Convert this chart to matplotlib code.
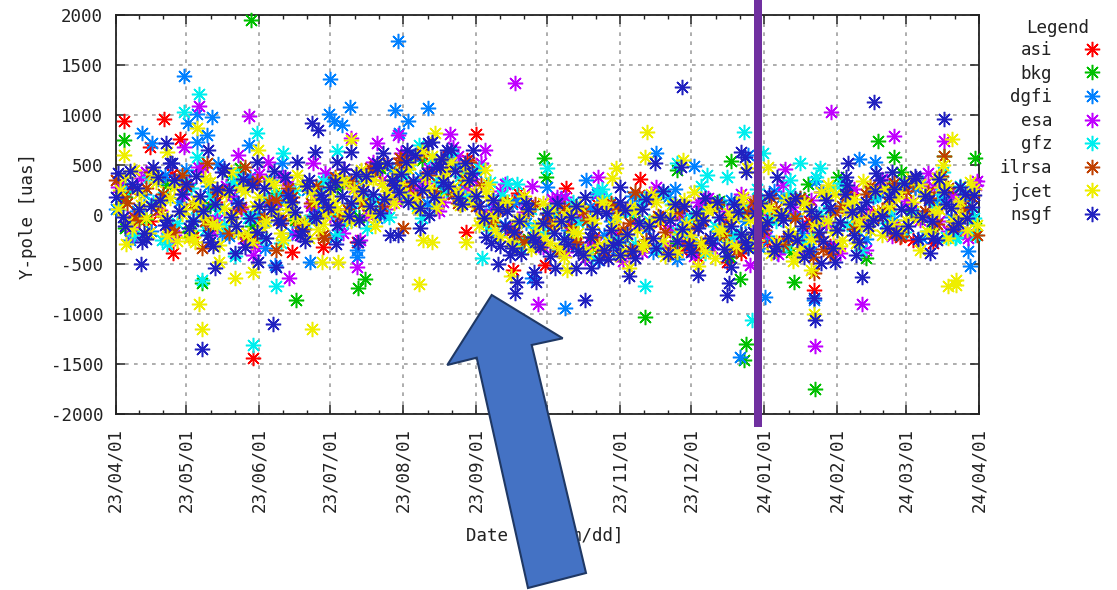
import matplotlib
matplotlib.use("Agg")
import matplotlib.pyplot as plt
from matplotlib.patches import Polygon, Rectangle

plt.rcParams['font.family'] = ['DejaVu Sans Mono']
plt.rcParams['axes.unicode_minus'] = False

W, H = 1117, 590
series_names = ['asi', 'bkg', 'dgfi', 'esa', 'gfz', 'ilrsa', 'jcet', 'nsgf']
series_colors = ['#ff0000', '#00c000', '#0080ff', '#c000ff', '#00eeee', '#c04000', '#eeee00', '#2020c0']

month_days = [0, 30, 61, 91, 122, 153, 183, 214, 244, 275, 306, 335, 366]
month_labels = ['23/04/01', '23/05/01', '23/06/01', '23/07/01', '23/08/01', '23/09/01', '23/10/01',
                '23/11/01', '23/12/01', '24/01/01', '24/02/01', '24/03/01', '24/04/01']
y_ticks = [-2000, -1500, -1000, -500, 0, 500, 1000, 1500, 2000]

# dense part of the cloud, read by eye per stretch of the time axis
asi_vals = [260,-70,410,-230,130,320,-40,190, -110,60,340,120,500,290,430, 590,200,-60,130,-240,-20,-300,
            110,-190,200,-80,-360,90,-140, 40,-280,160,-70,-320,210,20, -130,280,90,-200]
bkg_vals = [180,-50,300,-180,90,390,-120,220, -60,150,280,-30,470,180,550, 240,380,-90,120,-250,30,-170,
            -340,90,-60,210,-290,-20,140, -200,60,-310,160,-100,240,-50, 290,40,-150,210,-90]
dgfi_vals = [320,40,-170,400,130,-60, 290,-200,150,380,-80,100, -190,250,50,-230,330,120, -40,460,210,380,90,560,
             270,430,60,-110,160,-270, -60,170,-320,80,-210,-390, 190,-150,-30,260,-280,70,
             -230,150,-70,-340,240,20, -190,340,-110,90,-280,180, 40,-200,270,-30,160,-130,290]
dgfi_vals_b = [60,-260,210,360,-120,450, 100,-60,-220,280,30,350, 160,-170,60,380,-80,230, 420,-10,240,590,120,330,
               510,190,-30,-210,110,-90, -300,40,-160,-360,210,-70, -240,90,-380,180,-50,-300,
               100,-120,-290,60,-220,170, -20,-340,230,-160,70,-250, 220,-60,310,-240,130,-30,180]
esa_vals = [280,-130,430,50,-210,320, 480,-60,190,-290,410,90, 300,-110,210,-30,460,180, 530,60,620,250,470,130,
            590,360,-20,240,-190,100, -330,180,-100,-440,220,-210, 60,-380,280,-140,-260,130,
            -340,40,210,-190,-50,300, -260,150,-90,-390,260,30, 360,-150,120,310,-70,200,-200]
esa_vals_b = [-40,370,120,-260,210,480, -170,290,60,-320,150,380, -200,90,420,-100,270,-10, 350,140,560,320,40,680,
              260,520,110,-150,30,-240, 160,-380,-30,-250,80,-470, -110,200,-310,20,-420,170,
              -60,-280,120,-190,-400,80, -120,230,-320,60,-40,270, -220,140,-60,280,-170,90,340]
gfz_vals = [100,-210,380,180,-90,270, -160,60,330,-40,-240,200, 110,-140,260,20,-80,370, 150,-30,420,90,560,250,
            390,150,-120,200,-280,60, -180,-360,130,-70,260,-290, 20,170,-340,110,-190,290,
            -120,-260,70,260,-30,-310, 170,-210,50,320,-140,230, -90,300,20,-170,210,-240,60]
gfz_vals_b = [240,-50,130,-300,360,70, 190,-110,420,-20,150,-290, 250,-60,340,-200,90,170, 60,310,500,-40,340,620,
              180,470,-60,320,-350,-130, 50,-250,-80,-420,170,30, -300,-70,230,-180,-40,-390,
              120,-200,-330,140,-70,220, -280,10,270,-100,-360,190, 40,-180,340,110,-230,290,-40]
ilrsa_vals = [350,120,-60,430,210,-180,290,80, -110,240,20,-230,340,130, -60,180,-150,290,50,-20,
              340,120,430,200,520,300, 610,240,450,120,530,300, -80,110,-220,40,-300,-120,
              70,-280,-60,-350,120,-150, 230,-260,-20,-380,90,-130, -280,110,-50,-330,130,-160,
              60,-240,170,-100,-350,30, 200,-60,290,50,-190,240,-30,170,390,-120,60,-210]
ilrsa_vals_b = [190,-30,270,50,-150,400,110,-70, 230,-190,80,310,-30,150, 270,-90,120,-210,380,60,
                250,470,90,340,570,180, 400,560,210,350,90,-30, 60,-160,-280,110,-50,-370,
                -130,40,-230,-410,60,-90, -320,160,-180,30,-290,-70, 80,-210,-370,20,-120,170,
                -300,-40,110,-230,-400,90, -150,210,-20,120,-220,330,40,-100,270,-40,180]
jcet_vals = [250,-80,450,100,-190,330,-20,170,-270,60, -210,120,370,-100,-310,210,-40,280,-200,90,
             -130,340,20,-260,110,400,-90,230,-150,10, 130,380,-30,260,450,70,-120,310,170,420,
             220,510,70,380,590,160,440,280,100,360, 230,-40,310,-160,100,-270,-60,190,-350,-110,
             -240,50,-340,-20,-180,90,-400,-90,130,-280, -30,-370,80,-160,-300,210,-50,-420,100,-200,
             -100,230,-290,40,-440,-150,20,-320,180,-60, -260,90,-390,-20,150,-210,-340,60,-120,230,
             -70,210,-260,120,-30,340,-160,30,260,-100, 230,-60,130,310,-170,20,280,-240,90,-20, 330,-110]
jcet_vals_b = [60,380,-150,220,-40,410,120,-220,280,10, -240,140,-30,330,-120,70,430,-180,240,-280,
               180,-70,300,-190,60,-40,310,-240,140,-100, 240,60,330,-70,170,360,-10,500,240,120,
               310,460,180,640,270,70,390,530,210,470, 130,-110,240,-20,-230,130,-320,-70,50,-200,
               120,-290,-90,-430,30,-190,-370,-50,-310,80, -120,-420,-210,40,-330,-90,130,-270,-10,-380,
               150,-210,-50,-370,90,-170,-310,-40,120,-250, -330,-90,70,-280,-10,-170,-420,120,-250,-60,
               210,-180,-320,40,160,-110,-30,250,-210,90, 170,-140,370,-40,210,-190,60,300,-70,140, -160,260]
nsgf_vals = [420,-120,310,60,-250,480,150,-60,350,210, -140,390,40,-280,260,470,-30,120,-330,300,
             90,-240,440,-90,200,30,-170,350,-40,160, 280,-110,460,120,-60,390,210,20,520,300,
             410,130,600,250,-10,480,330,650,170,520, 420,90,-230,150,-320,40,-180,-400,60,-280,
             -90,-420,120,-250,-30,-370,180,-150,-460,20, -310,130,-200,-440,60,-120,-340,240,-60,-270,
             90,-380,-140,170,-290,-30,-420,110,-200,-340, 20,-150,200,-320,-60,110,-260,-430,40,-180,
             150,-340,-80,300,-210,60,-120,240,-20,180, -190,320,50,-250,190,-70,360,110,-150,280, -40,200]
nsgf_vals_b = [180,-30,440,270,-190,90,380,-110,520,40, 310,-70,190,-210,110,430,250,-120,360,-40,
               -180,270,60,-60,380,130,-210,290,-20,200, 80,330,190,-20,410,240,90,470,160,350,
               230,530,340,70,420,180,560,290,440,110, 350,190,-40,-290,60,-120,-340,-70,120,-230,
               -330,20,-190,-70,-300,90,-410,-230,40,-360, -160,-280,50,-370,-90,160,-240,-30,-400,110,
               -150,-310,20,-60,-240,130,-350,-120,30,-280, -180,120,-80,-370,-10,-220,170,-120,-370,-20,
               -270,70,-160,210,30,-280,130,-60,350,-140, 260,60,-120,390,-30,150,-260,230,70,-90, 210,80]

asi_days = list(range(6, 366, 9))
bkg_days = list(range(4, 366, 9))
dgfi_days = list(range(3, 366, 6)) + list(range(0, 366, 6))
esa_days = list(range(1, 366, 6)) + list(range(5, 366, 6))
gfz_days = list(range(2, 366, 6)) + list(range(4, 366, 6))
ilrsa_days = list(range(0, 366, 5)) + list(range(3, 366, 5))
jcet_days = list(range(2, 366, 3)) + list(range(1, 366, 3))
nsgf_days = list(range(1, 366, 3)) + list(range(0, 366, 3))

# points that stand clear of the cloud: (day after 23/04/01, value)
asi_extra = [(3.7,938),(20.7,958),(27.5,760),(14.6,680),(24.5,-389),(58.3,-1442),(75,-373),(88,-323),(102.2,-273),
             (153,807),(190.8,269),(222.2,356),(170.6,216),(146.7,429),(148.8,547),(148.4,-172),(168.3,-557),
             (247,-423),(259,-473),(265.3,-389),(182,-506),(296,-757),(281.3,-289),(332.4,-223),(338,-256),(346.5,-289)]
bkg_extra = [(57.4,1950),(3.7,747),(52.8,466),(36.8,-690),(76.6,-858),(102.6,-740),(105.7,-647),(4,-135),(31.6,-165),
             (181.6,570),(182.3,379),(260.8,537),(237.8,446),(141.7,513),(224.4,-1025),(267.2,-1302),(266.3,-1459),
             (264.9,-647),(260.4,-423),(323,737),(330,580),(333.1,429),(351.2,590),(364.5,570),(293.6,303),(306.3,379),
             (296.3,-1750),(287.6,-680),(318.3,-439),(286.5,-379)]
dgfi_extra = [(29,1389),(91,1356),(119.6,1737),(99.4,1081),(90.3,1008),(92.7,941),(95.8,898),(118.6,1048),(124,938),
              (132.5,1068),(11.4,817),(40.8,978),(30.8,917),(34.4,1008),(38.6,797),(34.4,730),(56.6,697),(15.3,717),
              (43.6,506),(70.4,516),(120,817),(82.4,-480),(102.2,-356),(102.2,-423),(67.5,-510),(63.3,-339),
              (229.3,614),(245.3,490),(199.4,346),(182.7,279),(268.1,597),(190.5,-935),(238.2,-446),(176.4,-640),
              (264.9,-1426),(204.6,-456),(315.2,557),(322.1,524),(296,-858),(362,-517),(361.4,-363),(275.2,-824),
              (280.2,-389),(295,-373)]
esa_extra = [(35.2,1091),(56.6,991),(99.7,767),(110.9,717),(119.6,797),(29,680),(52,597),(64.7,526),(83.8,516),
             (73.5,-640),(102.5,-530),(58.1,-406),(7.5,-206),(22.4,-189),(96.5,-189),(103.6,-256),
             (169.3,1316),(141.7,807),(156.6,647),(165,306),(176.4,286),(204.3,379),(190.5,179),
             (179.2,-900),(268.9,-506),(201,-273),(303.2,1025),(330,790),(351,737),(364.6,296),(283.7,453),(344.4,416),
             (296.3,-1316),(316.2,-900),(318.3,-356),(361.4,-239),(290.8,-339)]
gfz_extra = [(35.2,1205),(29,1031),(59.8,817),(71,617),(93.9,637),(34.4,580),(128.6,697),
             (36.8,-657),(68.1,-717),(58.3,-1309),(19.6,-256),(50.6,-420),(106.4,-135),
             (266.4,824),(250.9,396),(170,306),(183,463),(237.8,513),(259,379),(158.7,329),(203.9,229),
             (155.4,-439),(224.4,-717),(269.6,-1058),(210.9,-273),(290,514),(298.5,463),(297.1,379),(274.5,614),
             (350.8,429),(285.8,346),(356.2,-223),(364.2,-206)]
ilrsa_extra = [(38.6,516),(54.9,480),(120.6,567),(36.8,-339),(88.3,-239),(58.7,-239),(68,-356),(122,-138),
               (218,-356),(247.5,-340),(351.2,590),(330,319),(344.3,229),(296,-590),(295.7,-423)]
jcet_extra = [(34.4,867),(60.3,647),(3.6,597),(109,346),(21.7,630),(99.7,750),
              (4.4,-299),(35.2,-898),(36.8,-1148),(83.4,-1148),(50.6,-640),(58.4,-574),(128.6,-697),(44,-473),
              (87.4,-480),(94.2,-480),(33.7,-273),(130.2,-256),(225.1,824),(224.4,580),(212,463),(210.3,363),
              (240.6,547),(135.4,814),(156.6,446),(267.5,463),(158,179),(148.4,-273),(247,-520),(191.2,-557),
              (217.6,-540),(134,-273),(167.5,-620),(354.6,754),(350.8,497),(301.8,296),(348,363),(276.5,480),
              (356.2,-657),(352.9,-717),(356.4,-707),(296,-998),(295,-557),(287.2,-463),(340.9,-356),(314,-289)]
nsgf_extra = [(83.4,915),(85.9,847),(21.3,717),(84.5,630),(99.7,630),(76.8,530),(39.3,647),(60,526),(113.4,617),
              (123.4,647),(132.4,717),(93.7,530),(23,516),(110.7,516),(10.7,-500),(42.2,-533),(36.8,-1349),
              (66.7,-1098),(60.5,-473),(67.9,-523),(50.6,-383),(80.4,-266),(93.4,-296),(102.9,-273),(41.4,-316),
              (11.4,-279),(116.3,-206),(119.7,-206),(129,-135),(240.3,1276),(140.3,647),(151.6,647),(265,630),
              (266.7,580),(267.2,429),(239.6,480),(228.6,514),(213.8,279),(137.5,480),(134,730),
              (162.2,-496),(169.3,-790),(170.3,-674),(178.2,-674),(177.5,-574),(199,-858),(217.6,-614),(247,-607),
              (260.1,-690),(259.4,-807),(260.8,-530),(186.2,-540),(195,-540),(201.5,-540),(208.8,-450),(214,-406),
              (167.2,-406),(321.5,1131),(351.2,955),(310.5,514),(339.5,369),(280.2,379),(329.3,429),(322.5,413),
              (309.8,379),(296.3,-1058),(296,-841),(316.2,-624),(304.9,-480),(299.2,-490),(314,-406),(345.1,-383),
              (346.5,-239)]

all_days = [asi_days, bkg_days, dgfi_days, esa_days, gfz_days, ilrsa_days, jcet_days, nsgf_days]
all_vals = [asi_vals, bkg_vals, dgfi_vals + dgfi_vals_b, esa_vals + esa_vals_b, gfz_vals + gfz_vals_b,
            ilrsa_vals + ilrsa_vals_b, jcet_vals + jcet_vals_b, nsgf_vals + nsgf_vals_b]
all_extra = [asi_extra, bkg_extra, dgfi_extra, esa_extra, gfz_extra, ilrsa_extra, jcet_extra, nsgf_extra]

fig = plt.figure(figsize=(W / 100, H / 100), dpi=100)
L, R, T, B = 115.5, 979, 15, 414
ax = fig.add_axes([L / W, 1 - B / H, (R - L) / W, (B - T) / H])
ax.set_xlim(0, 366)
ax.set_ylim(-2000, 2000)

STAR = (8, 2, 0)
for name, color, days, vals, extra in zip(series_names, series_colors, all_days, all_vals, all_extra):
    xs = list(days) + [p[0] for p in extra]
    ys = list(vals) + [p[1] for p in extra]
    ax.plot(xs, ys, linestyle='none', marker=STAR, markersize=11, markeredgewidth=1.1,
            color=color, label=name, clip_on=False, zorder=3)

ax.set_xticks(month_days)
ax.set_xticklabels(month_labels, rotation=90, fontsize=12.6)
minor = []
for a, b in zip(month_days[:-1], month_days[1:]):
    minor += [a + (b - a) / 3, a + 2 * (b - a) / 3]
ax.set_xticks(minor, minor=True)
ax.set_yticks(y_ticks)
ax.set_yticklabels([str(v) for v in y_ticks], fontsize=12.6)

ax.grid(True, which='major', color='#a0a0a0', linestyle=(0, (2.2, 3.2)), linewidth=1.2, zorder=1)
ax.set_axisbelow(True)
ax.tick_params(axis='both', which='major', direction='in', length=6.5, width=1.1, top=True, right=True,
               color='#222222', labelcolor='#222222')
ax.tick_params(axis='x', which='major', pad=10)
ax.tick_params(axis='y', which='major', pad=9)
ax.tick_params(axis='x', which='minor', direction='in', length=3.2, width=1.0, top=True, color='#222222')
for s in ax.spines.values():
    s.set_linewidth(1.3)
    s.set_color('#222222')
    s.set_zorder(2)

fig.text(28 / W, 1 - 216 / H, 'Y-pole [uas]', rotation=90, ha='center', va='center', fontsize=12.6, color='#222222')
fig.text(545 / W, 1 - 536 / H, 'Date [yy/mm/dd]', ha='center', va='center', fontsize=12.6, color='#222222')

fig.text(1058 / W, 1 - 28 / H, 'Legend', ha='center', va='center', fontsize=12.6, color='#222222')
leg = ax.legend(loc='upper right', bbox_to_anchor=(1101 / W, 1 - 41 / H), bbox_transform=fig.transFigure,
                frameon=False, numpoints=1, markerfirst=False, fontsize=12.6,
                labelspacing=0.32, handlelength=1.0, handletextpad=1.8, borderpad=0, borderaxespad=0)
for t in leg.get_texts():
    t.set_color('#222222')

# annotations painted over the chart, in picture pixels
over = fig.add_axes([0, 0, 1, 1], zorder=10)
over.set_xlim(0, W)
over.set_ylim(H, 0)
over.axis('off')
over.patch.set_alpha(0)
over.add_patch(Rectangle((754, 0), 8, 426.5, facecolor='#7030a0', edgecolor='none'))
over.add_patch(Polygon([(491.7, 295), (562.7, 338.3), (531.7, 345), (586, 573), (528, 588),
                        (476.7, 357.7), (447.3, 365)], closed=True,
                       facecolor='#4472c4', edgecolor='#1f3864', linewidth=1.5))

fig.savefig('out.png', dpi=100)
